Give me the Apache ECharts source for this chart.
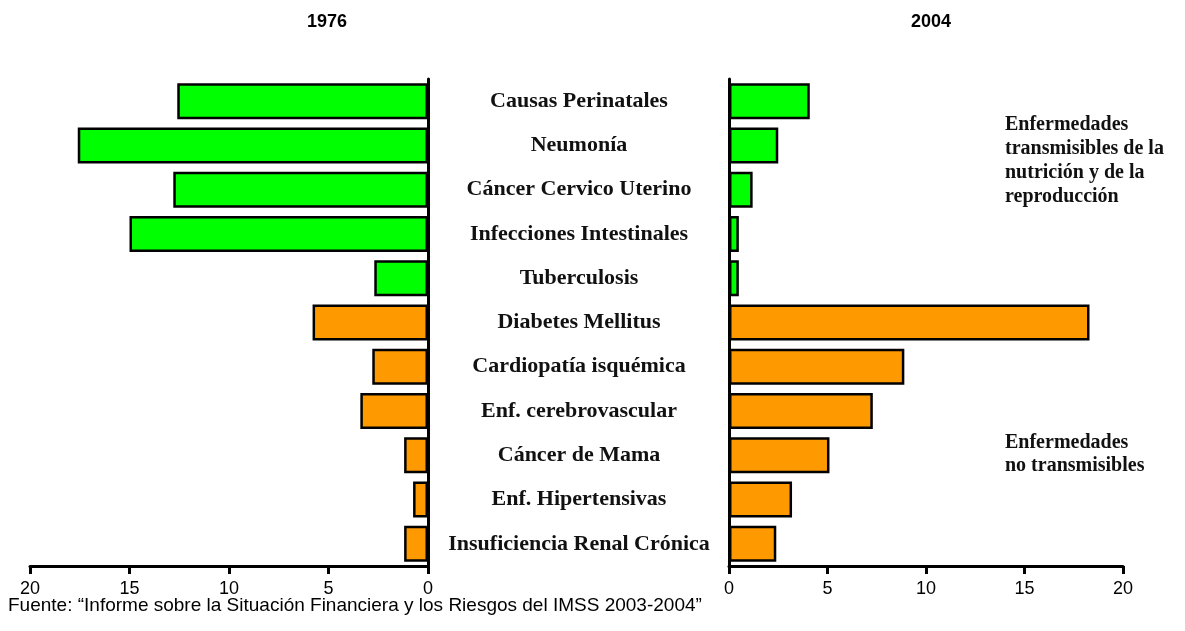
<!DOCTYPE html>
<html>
<head>
<meta charset="utf-8">
<script src="https://cdn.jsdelivr.net/npm/echarts@6/dist/echarts.min.js"></script>
<style>
  html, body { margin: 0; padding: 0; background: #fff; }
  #chart { width: 1185px; height: 631px; }
</style>
</head>
<body>
<div id="chart"></div>
<script>
// causes of death, top to bottom
const categories = [
  'Causas Perinatales',
  'Neumonía',
  'Cáncer Cervico Uterino',
  'Infecciones Intestinales',
  'Tuberculosis',
  'Diabetes Mellitus',
  'Cardiopatía isquémica',
  'Enf. cerebrovascular',
  'Cáncer de Mama',
  'Enf. Hipertensivas',
  'Insuficiencia Renal Crónica'
]
// 't' = transmisibles, 'n' = no transmisibles
const groups = ['t', 't', 't', 't', 't', 'n', 'n', 'n', 'n', 'n', 'n']
const values1976 = [12.6, 17.6, 12.8, 15.0, 2.7, 5.8, 2.8, 3.4, 1.2, 0.75, 1.2]
const values2004 = [4.1, 2.5, 1.2, 0.5, 0.5, 18.3, 8.9, 7.3, 5.1, 3.2, 2.4]
const xTicks = [0, 5, 10, 15, 20]

const groupColors = { t: '#00ff00', n: '#ff9900' }

const chart = echarts.init(document.getElementById('chart'))

const toData = vals => vals.map((v, i) => ({
  value: v,
  itemStyle: { color: groupColors[groups[i]] }
}))

const sansFont = 'Liberation Sans, Arial, sans-serif'
const serifFont = 'Liberation Serif, Times New Roman, serif'

const xAxisBase = {
  type: 'value',
  min: xTicks[0],
  max: xTicks[xTicks.length - 1],
  interval: 5,
  axisLine: { show: true, lineStyle: { color: '#000', width: 3 } },
  axisTick: { show: true, length: 8, lineStyle: { color: '#000', width: 3 } },
  axisLabel: { color: '#000', fontSize: 18, fontFamily: sansFont, margin: 14 },
  splitLine: { show: false }
}

const option = {
  animation: false,
  backgroundColor: '#fff',
  grid: [
    { left: 30, top: 79, width: 398, height: 487 },
    { left: 729, top: 79, width: 394, height: 487 }
  ],
  xAxis: [
    Object.assign({}, xAxisBase, { gridIndex: 0, inverse: true }),
    Object.assign({}, xAxisBase, { gridIndex: 1 })
  ],
  yAxis: [
    {
      gridIndex: 0,
      type: 'category',
      data: categories,
      inverse: true,
      position: 'right',
      axisLine: { show: true, lineStyle: { color: '#000', width: 3 } },
      axisTick: { show: false },
      axisLabel: {
        margin: 151,
        align: 'center',
        color: '#111',
        fontSize: 22,
        fontWeight: 'bold',
        fontFamily: serifFont
      }
    },
    {
      gridIndex: 1,
      type: 'category',
      data: categories,
      inverse: true,
      axisLine: { show: true, lineStyle: { color: '#000', width: 3 } },
      axisTick: { show: false },
      axisLabel: { show: false }
    }
  ],
  series: [
    {
      type: 'bar',
      xAxisIndex: 0,
      yAxisIndex: 0,
      barWidth: 36,
      data: toData(values1976),
      itemStyle: { borderColor: '#000', borderWidth: 2.5 }
    },
    {
      type: 'bar',
      xAxisIndex: 1,
      yAxisIndex: 1,
      barWidth: 36,
      data: toData(values2004),
      itemStyle: { borderColor: '#000', borderWidth: 2.5 }
    }
  ],
  graphic: [
    {
      type: 'text', left: 307, top: 13,
      style: { text: '1976', fontSize: 18, fontWeight: 'bold', fontFamily: sansFont, fill: '#000' }
    },
    {
      type: 'text', left: 911, top: 13,
      style: { text: '2004', fontSize: 18, fontWeight: 'bold', fontFamily: sansFont, fill: '#000' }
    },
    {
      type: 'text', left: 1005, top: 113,
      style: {
        text: 'Enfermedades\ntransmisibles de la\nnutrición y de la\nreproducción',
        fontSize: 20, fontWeight: 'bold', fontFamily: serifFont, lineHeight: 24, fill: '#111'
      }
    },
    {
      type: 'text', left: 1005, top: 431,
      style: {
        text: 'Enfermedades\nno transmisibles',
        fontSize: 20, fontWeight: 'bold', fontFamily: serifFont, lineHeight: 23, fill: '#111'
      }
    },
    {
      type: 'text', left: 8, top: 596,
      style: {
        text: 'Fuente: “Informe sobre la Situación Financiera y los Riesgos del IMSS 2003-2004”',
        fontSize: 19, fontFamily: sansFont, fill: '#000'
      }
    }
  ]
}

chart.setOption(option)
</script>
</body>
</html>
